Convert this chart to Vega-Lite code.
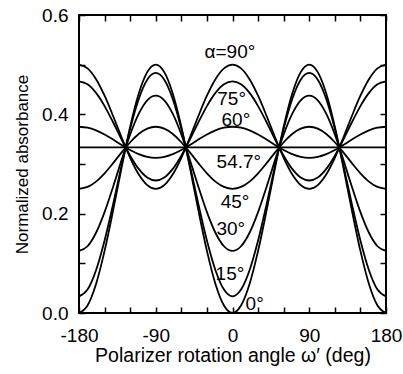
{
 "$schema": "https://vega.github.io/schema/vega-lite/v6.json",
 "width": 307, "height": 298,
 "autosize": {"type": "none"},
 "padding": {"left": 79, "top": 15, "right": 17, "bottom": 61},
 "background": "white",
 "config": {
  "font": "Liberation Sans",
  "view": {"stroke": "black", "strokeWidth": 2},
  "axis": {"grid": false, "domain": false, "tickColor": "black", "tickWidth": 1.5, "tickSize": 6, "offset": -6, "labelColor": "black", "titleColor": "black", "labelFont": "Liberation Sans", "titleFont": "Liberation Sans", "titleFontWeight": "normal"}
 },
 "datasets": {
  "curves": [
   {"a":"0","w":-180,"y":0},{"a":"0","w":-170,"y":0.0151},{"a":"0","w":-160,"y":0.0585},{"a":"0","w":-150,"y":0.125},{"a":"0","w":-140,"y":0.2066},{"a":"0","w":-130,"y":0.2934},{"a":"0","w":-125.26,"y":0.3333},{"a":"0","w":-120,"y":0.375},{"a":"0","w":-110,"y":0.4415},{"a":"0","w":-100,"y":0.4849},{"a":"0","w":-90,"y":0.5},{"a":"0","w":-80,"y":0.4849},{"a":"0","w":-70,"y":0.4415},{"a":"0","w":-60,"y":0.375},{"a":"0","w":-54.74,"y":0.3333},{"a":"0","w":-50,"y":0.2934},{"a":"0","w":-40,"y":0.2066},{"a":"0","w":-30,"y":0.125},{"a":"0","w":-20,"y":0.0585},{"a":"0","w":-10,"y":0.0151},{"a":"0","w":0,"y":0},{"a":"0","w":10,"y":0.0151},{"a":"0","w":20,"y":0.0585},{"a":"0","w":30,"y":0.125},{"a":"0","w":40,"y":0.2066},{"a":"0","w":50,"y":0.2934},{"a":"0","w":54.74,"y":0.3333},{"a":"0","w":60,"y":0.375},{"a":"0","w":70,"y":0.4415},{"a":"0","w":80,"y":0.4849},{"a":"0","w":90,"y":0.5},{"a":"0","w":100,"y":0.4849},{"a":"0","w":110,"y":0.4415},{"a":"0","w":120,"y":0.375},{"a":"0","w":125.26,"y":0.3333},{"a":"0","w":130,"y":0.2934},{"a":"0","w":140,"y":0.2066},{"a":"0","w":150,"y":0.125},{"a":"0","w":160,"y":0.0585},{"a":"0","w":170,"y":0.0151},{"a":"0","w":180,"y":0},
   {"a":"15","w":-180,"y":0.0335},{"a":"15","w":-170,"y":0.0471},{"a":"15","w":-160,"y":0.0861},{"a":"15","w":-150,"y":0.1459},{"a":"15","w":-140,"y":0.2193},{"a":"15","w":-130,"y":0.2974},{"a":"15","w":-125.26,"y":0.3333},{"a":"15","w":-120,"y":0.3708},{"a":"15","w":-110,"y":0.4306},{"a":"15","w":-100,"y":0.4697},{"a":"15","w":-90,"y":0.4833},{"a":"15","w":-80,"y":0.4697},{"a":"15","w":-70,"y":0.4306},{"a":"15","w":-60,"y":0.3708},{"a":"15","w":-54.74,"y":0.3333},{"a":"15","w":-50,"y":0.2974},{"a":"15","w":-40,"y":0.2193},{"a":"15","w":-30,"y":0.1459},{"a":"15","w":-20,"y":0.0861},{"a":"15","w":-10,"y":0.0471},{"a":"15","w":0,"y":0.0335},{"a":"15","w":10,"y":0.0471},{"a":"15","w":20,"y":0.0861},{"a":"15","w":30,"y":0.1459},{"a":"15","w":40,"y":0.2193},{"a":"15","w":50,"y":0.2974},{"a":"15","w":54.74,"y":0.3333},{"a":"15","w":60,"y":0.3708},{"a":"15","w":70,"y":0.4306},{"a":"15","w":80,"y":0.4697},{"a":"15","w":90,"y":0.4833},{"a":"15","w":100,"y":0.4697},{"a":"15","w":110,"y":0.4306},{"a":"15","w":120,"y":0.3708},{"a":"15","w":125.26,"y":0.3333},{"a":"15","w":130,"y":0.2974},{"a":"15","w":140,"y":0.2193},{"a":"15","w":150,"y":0.1459},{"a":"15","w":160,"y":0.0861},{"a":"15","w":170,"y":0.0471},{"a":"15","w":180,"y":0.0335},
   {"a":"30","w":-180,"y":0.125},{"a":"30","w":-170,"y":0.1344},{"a":"30","w":-160,"y":0.1616},{"a":"30","w":-150,"y":0.2031},{"a":"30","w":-140,"y":0.2541},{"a":"30","w":-130,"y":0.3084},{"a":"30","w":-125.26,"y":0.3333},{"a":"30","w":-120,"y":0.3594},{"a":"30","w":-110,"y":0.4009},{"a":"30","w":-100,"y":0.4281},{"a":"30","w":-90,"y":0.4375},{"a":"30","w":-80,"y":0.4281},{"a":"30","w":-70,"y":0.4009},{"a":"30","w":-60,"y":0.3594},{"a":"30","w":-54.74,"y":0.3333},{"a":"30","w":-50,"y":0.3084},{"a":"30","w":-40,"y":0.2541},{"a":"30","w":-30,"y":0.2031},{"a":"30","w":-20,"y":0.1616},{"a":"30","w":-10,"y":0.1344},{"a":"30","w":0,"y":0.125},{"a":"30","w":10,"y":0.1344},{"a":"30","w":20,"y":0.1616},{"a":"30","w":30,"y":0.2031},{"a":"30","w":40,"y":0.2541},{"a":"30","w":50,"y":0.3084},{"a":"30","w":54.74,"y":0.3333},{"a":"30","w":60,"y":0.3594},{"a":"30","w":70,"y":0.4009},{"a":"30","w":80,"y":0.4281},{"a":"30","w":90,"y":0.4375},{"a":"30","w":100,"y":0.4281},{"a":"30","w":110,"y":0.4009},{"a":"30","w":120,"y":0.3594},{"a":"30","w":125.26,"y":0.3333},{"a":"30","w":130,"y":0.3084},{"a":"30","w":140,"y":0.2541},{"a":"30","w":150,"y":0.2031},{"a":"30","w":160,"y":0.1616},{"a":"30","w":170,"y":0.1344},{"a":"30","w":180,"y":0.125},
   {"a":"45","w":-180,"y":0.25},{"a":"45","w":-170,"y":0.2538},{"a":"45","w":-160,"y":0.2646},{"a":"45","w":-150,"y":0.2813},{"a":"45","w":-140,"y":0.3017},{"a":"45","w":-130,"y":0.3234},{"a":"45","w":-125.26,"y":0.3333},{"a":"45","w":-120,"y":0.3438},{"a":"45","w":-110,"y":0.3604},{"a":"45","w":-100,"y":0.3712},{"a":"45","w":-90,"y":0.375},{"a":"45","w":-80,"y":0.3712},{"a":"45","w":-70,"y":0.3604},{"a":"45","w":-60,"y":0.3438},{"a":"45","w":-54.74,"y":0.3333},{"a":"45","w":-50,"y":0.3234},{"a":"45","w":-40,"y":0.3017},{"a":"45","w":-30,"y":0.2813},{"a":"45","w":-20,"y":0.2646},{"a":"45","w":-10,"y":0.2538},{"a":"45","w":0,"y":0.25},{"a":"45","w":10,"y":0.2538},{"a":"45","w":20,"y":0.2646},{"a":"45","w":30,"y":0.2813},{"a":"45","w":40,"y":0.3017},{"a":"45","w":50,"y":0.3234},{"a":"45","w":54.74,"y":0.3333},{"a":"45","w":60,"y":0.3438},{"a":"45","w":70,"y":0.3604},{"a":"45","w":80,"y":0.3712},{"a":"45","w":90,"y":0.375},{"a":"45","w":100,"y":0.3712},{"a":"45","w":110,"y":0.3604},{"a":"45","w":120,"y":0.3438},{"a":"45","w":125.26,"y":0.3333},{"a":"45","w":130,"y":0.3234},{"a":"45","w":140,"y":0.3017},{"a":"45","w":150,"y":0.2813},{"a":"45","w":160,"y":0.2646},{"a":"45","w":170,"y":0.2538},{"a":"45","w":180,"y":0.25},
   {"a":"54.7","w":-180,"y":0.3333},{"a":"54.7","w":180,"y":0.3333},
   {"a":"60","w":-180,"y":0.375},{"a":"60","w":-170,"y":0.3731},{"a":"60","w":-160,"y":0.3677},{"a":"60","w":-150,"y":0.3594},{"a":"60","w":-140,"y":0.3492},{"a":"60","w":-130,"y":0.3383},{"a":"60","w":-125.26,"y":0.3333},{"a":"60","w":-120,"y":0.3281},{"a":"60","w":-110,"y":0.3198},{"a":"60","w":-100,"y":0.3144},{"a":"60","w":-90,"y":0.3125},{"a":"60","w":-80,"y":0.3144},{"a":"60","w":-70,"y":0.3198},{"a":"60","w":-60,"y":0.3281},{"a":"60","w":-54.74,"y":0.3333},{"a":"60","w":-50,"y":0.3383},{"a":"60","w":-40,"y":0.3492},{"a":"60","w":-30,"y":0.3594},{"a":"60","w":-20,"y":0.3677},{"a":"60","w":-10,"y":0.3731},{"a":"60","w":0,"y":0.375},{"a":"60","w":10,"y":0.3731},{"a":"60","w":20,"y":0.3677},{"a":"60","w":30,"y":0.3594},{"a":"60","w":40,"y":0.3492},{"a":"60","w":50,"y":0.3383},{"a":"60","w":54.74,"y":0.3333},{"a":"60","w":60,"y":0.3281},{"a":"60","w":70,"y":0.3198},{"a":"60","w":80,"y":0.3144},{"a":"60","w":90,"y":0.3125},{"a":"60","w":100,"y":0.3144},{"a":"60","w":110,"y":0.3198},{"a":"60","w":120,"y":0.3281},{"a":"60","w":125.26,"y":0.3333},{"a":"60","w":130,"y":0.3383},{"a":"60","w":140,"y":0.3492},{"a":"60","w":150,"y":0.3594},{"a":"60","w":160,"y":0.3677},{"a":"60","w":170,"y":0.3731},{"a":"60","w":180,"y":0.375},
   {"a":"75","w":-180,"y":0.4665},{"a":"75","w":-170,"y":0.4605},{"a":"75","w":-160,"y":0.4431},{"a":"75","w":-150,"y":0.4166},{"a":"75","w":-140,"y":0.384},{"a":"75","w":-130,"y":0.3493},{"a":"75","w":-125.26,"y":0.3333},{"a":"75","w":-120,"y":0.3167},{"a":"75","w":-110,"y":0.2901},{"a":"75","w":-100,"y":0.2728},{"a":"75","w":-90,"y":0.2668},{"a":"75","w":-80,"y":0.2728},{"a":"75","w":-70,"y":0.2901},{"a":"75","w":-60,"y":0.3167},{"a":"75","w":-54.74,"y":0.3333},{"a":"75","w":-50,"y":0.3493},{"a":"75","w":-40,"y":0.384},{"a":"75","w":-30,"y":0.4166},{"a":"75","w":-20,"y":0.4431},{"a":"75","w":-10,"y":0.4605},{"a":"75","w":0,"y":0.4665},{"a":"75","w":10,"y":0.4605},{"a":"75","w":20,"y":0.4431},{"a":"75","w":30,"y":0.4166},{"a":"75","w":40,"y":0.384},{"a":"75","w":50,"y":0.3493},{"a":"75","w":54.74,"y":0.3333},{"a":"75","w":60,"y":0.3167},{"a":"75","w":70,"y":0.2901},{"a":"75","w":80,"y":0.2728},{"a":"75","w":90,"y":0.2668},{"a":"75","w":100,"y":0.2728},{"a":"75","w":110,"y":0.2901},{"a":"75","w":120,"y":0.3167},{"a":"75","w":125.26,"y":0.3333},{"a":"75","w":130,"y":0.3493},{"a":"75","w":140,"y":0.384},{"a":"75","w":150,"y":0.4166},{"a":"75","w":160,"y":0.4431},{"a":"75","w":170,"y":0.4605},{"a":"75","w":180,"y":0.4665},
   {"a":"90","w":-180,"y":0.5},{"a":"90","w":-170,"y":0.4925},{"a":"90","w":-160,"y":0.4708},{"a":"90","w":-150,"y":0.4375},{"a":"90","w":-140,"y":0.3967},{"a":"90","w":-130,"y":0.3533},{"a":"90","w":-125.26,"y":0.3333},{"a":"90","w":-120,"y":0.3125},{"a":"90","w":-110,"y":0.2793},{"a":"90","w":-100,"y":0.2575},{"a":"90","w":-90,"y":0.25},{"a":"90","w":-80,"y":0.2575},{"a":"90","w":-70,"y":0.2793},{"a":"90","w":-60,"y":0.3125},{"a":"90","w":-54.74,"y":0.3333},{"a":"90","w":-50,"y":0.3533},{"a":"90","w":-40,"y":0.3967},{"a":"90","w":-30,"y":0.4375},{"a":"90","w":-20,"y":0.4708},{"a":"90","w":-10,"y":0.4925},{"a":"90","w":0,"y":0.5},{"a":"90","w":10,"y":0.4925},{"a":"90","w":20,"y":0.4708},{"a":"90","w":30,"y":0.4375},{"a":"90","w":40,"y":0.3967},{"a":"90","w":50,"y":0.3533},{"a":"90","w":54.74,"y":0.3333},{"a":"90","w":60,"y":0.3125},{"a":"90","w":70,"y":0.2793},{"a":"90","w":80,"y":0.2575},{"a":"90","w":90,"y":0.25},{"a":"90","w":100,"y":0.2575},{"a":"90","w":110,"y":0.2793},{"a":"90","w":120,"y":0.3125},{"a":"90","w":125.26,"y":0.3333},{"a":"90","w":130,"y":0.3533},{"a":"90","w":140,"y":0.3967},{"a":"90","w":150,"y":0.4375},{"a":"90","w":160,"y":0.4708},{"a":"90","w":170,"y":0.4925},{"a":"90","w":180,"y":0.5}
  ],
  "labels": [
   {"label":"α=90°","w":-3,"y":0.525},
   {"label":"75°","w":-1,"y":0.431},
   {"label":"60°","w":4,"y":0.389},
   {"label":"54.7°","w":7.5,"y":0.305},
   {"label":"45°","w":3,"y":0.2225},
   {"label":"30°","w":-2,"y":0.169},
   {"label":"15°","w":-3,"y":0.0785},
   {"label":"0°","w":26,"y":0.018}
  ]
 },
 "layer": [
  {
   "data": {"name": "curves"},
   "mark": {"type": "line", "interpolate": "monotone", "color": "black", "strokeWidth": 1.8},
   "encoding": {
    "x": {"field": "w", "type": "quantitative", "scale": {"domain": [-180, 180], "nice": false, "zero": false},
          "axis": {"orient": "bottom", "values": [-180,-150,-120,-90,-60,-30,0,30,60,90,120,150,180], "labelExpr": "datum.value % 90 === 0 ? '' + datum.value : ''", "labelFontSize": 19, "labelPadding": 13, "labelFlush": false, "title": "Polarizer rotation angle ω′ (deg)", "titleFontSize": 19.5, "titlePadding": 1}},
    "y": {"field": "y", "type": "quantitative", "scale": {"domain": [0, 0.6], "nice": false},
          "axis": {"orient": "left", "values": [0,0.1,0.2,0.3,0.4,0.5,0.6], "labelExpr": "round(datum.value*10) % 2 === 0 ? format(datum.value, '.1f') : ''", "labelFontSize": 19, "labelPadding": 11, "labelFlush": false, "title": "Normalized absorbance", "titleFontSize": 17, "titlePadding": 10}},
    "detail": {"field": "a", "type": "nominal"}
   }
  },
  {
   "data": {"name": "labels"},
   "mark": {"type": "text", "fontSize": 19, "font": "Liberation Sans", "color": "black", "align": "center", "baseline": "middle"},
   "encoding": {
    "x": {"field": "w", "type": "quantitative", "scale": {"domain": [-180, 180], "nice": false, "zero": false},
          "axis": {"orient": "top", "values": [-180,-150,-120,-90,-60,-30,0,30,60,90,120,150,180], "labels": false, "title": null}},
    "y": {"field": "y", "type": "quantitative", "scale": {"domain": [0, 0.6], "nice": false},
          "axis": {"orient": "right", "values": [0,0.1,0.2,0.3,0.4,0.5,0.6], "labels": false, "title": null}},
    "text": {"field": "label"}
   }
  }
 ],
 "resolve": {"axis": {"x": "independent", "y": "independent"}}
}
